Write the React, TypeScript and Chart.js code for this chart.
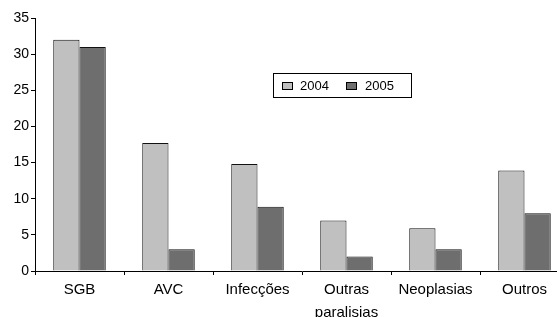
import React, { useEffect, useRef } from "react";
import { Chart, registerables } from "chart.js";

Chart.register(...registerables);

const categories: (string | string[])[] = ["SGB", "AVC", "Infecções", ["Outras", "paralisias"], "Neoplasias", "Outros"];
const series2004 = [32, 17.7, 14.8, 7, 5.9, 13.9];
const series2005 = [31, 3, 8.9, 2, 3, 8];
const seriesLabels = ["2004", "2005"];
const yTicks = [0, 5, 10, 15, 20, 25, 30, 35];

const LIGHT = "#c0c0c0";
const DARK = "#6e6e6e";
const FONT = "'Liberation Sans', Arial, sans-serif";

const legendPlugin = {
  id: "boxLegend",
  afterDraw(chart: any) {
    const ctx = chart.ctx;
    ctx.save();
    const x = 273.5, y = 73.5, w = 138, h = 24;
    ctx.fillStyle = "#fff";
    ctx.fillRect(x, y, w, h);
    ctx.strokeStyle = "#000";
    ctx.lineWidth = 1;
    ctx.strokeRect(x, y, w, h);
    const items = [
      { color: LIGHT, label: seriesLabels[0], sx: 282.5, tx: 300 },
      { color: DARK, label: seriesLabels[1], sx: 346.5, tx: 365 },
    ];
    ctx.font = `13px ${FONT}`;
    ctx.textBaseline = "middle";
    ctx.textAlign = "left";
    for (const it of items) {
      ctx.fillStyle = it.color;
      ctx.fillRect(it.sx, 82.5, 10, 7);
      ctx.strokeStyle = "#000";
      ctx.strokeRect(it.sx, 82.5, 10, 7);
      ctx.fillStyle = "#000";
      ctx.fillText(it.label, it.tx, 86);
    }
    ctx.restore();
  },
};

export default function App() {
  const ref = useRef<HTMLCanvasElement>(null);
  useEffect(() => {
    if (!ref.current) return;
    const chart = new Chart(ref.current, {
      type: "bar",
      data: {
        labels: categories,
        datasets: [
          { label: seriesLabels[0], data: series2004, backgroundColor: LIGHT, borderColor: "#111", borderWidth: 1 },
          { label: seriesLabels[1], data: series2005, backgroundColor: DARK, borderColor: "#111", borderWidth: 1 },
        ],
      },
      options: {
        responsive: false,
        animation: false,
        layout: { padding: { top: 18, right: 1, left: 0, bottom: 0 } },
        plugins: { legend: { display: false }, tooltip: { enabled: false } },
        datasets: { bar: { categoryPercentage: 0.59, barPercentage: 1 } },
        scales: {
          x: {
            grid: { display: true, drawOnChartArea: false, drawTicks: true, tickLength: 4, color: "#000", offset: true },
            border: { display: true, color: "#000", width: 1 },
            ticks: { color: "#000", font: { family: FONT, size: 15, lineHeight: 1.55 }, padding: 3, maxRotation: 0, autoSkip: false },
            afterFit: (s: any) => { s.height = 46; },
          },
          y: {
            min: 0,
            max: 35,
            afterBuildTicks: (s: any) => { s.ticks = yTicks.map((v) => ({ value: v })); },
            grid: { display: true, drawOnChartArea: false, drawTicks: true, tickLength: 4, color: "#000" },
            border: { display: true, color: "#000", width: 1 },
            ticks: { color: "#000", font: { family: FONT, size: 14 }, padding: 2 },
            afterFit: (s: any) => { s.width = 35; },
          },
        },
      },
      plugins: [legendPlugin],
    });
    return () => chart.destroy();
  }, []);
  return (
    <div style={{ position: "fixed", left: 0, top: 0, width: 557, height: 317, overflow: "hidden", background: "#fff" }}>
      <canvas ref={ref} width={570} height={317} style={{ display: "block" }} />
    </div>
  );
}
